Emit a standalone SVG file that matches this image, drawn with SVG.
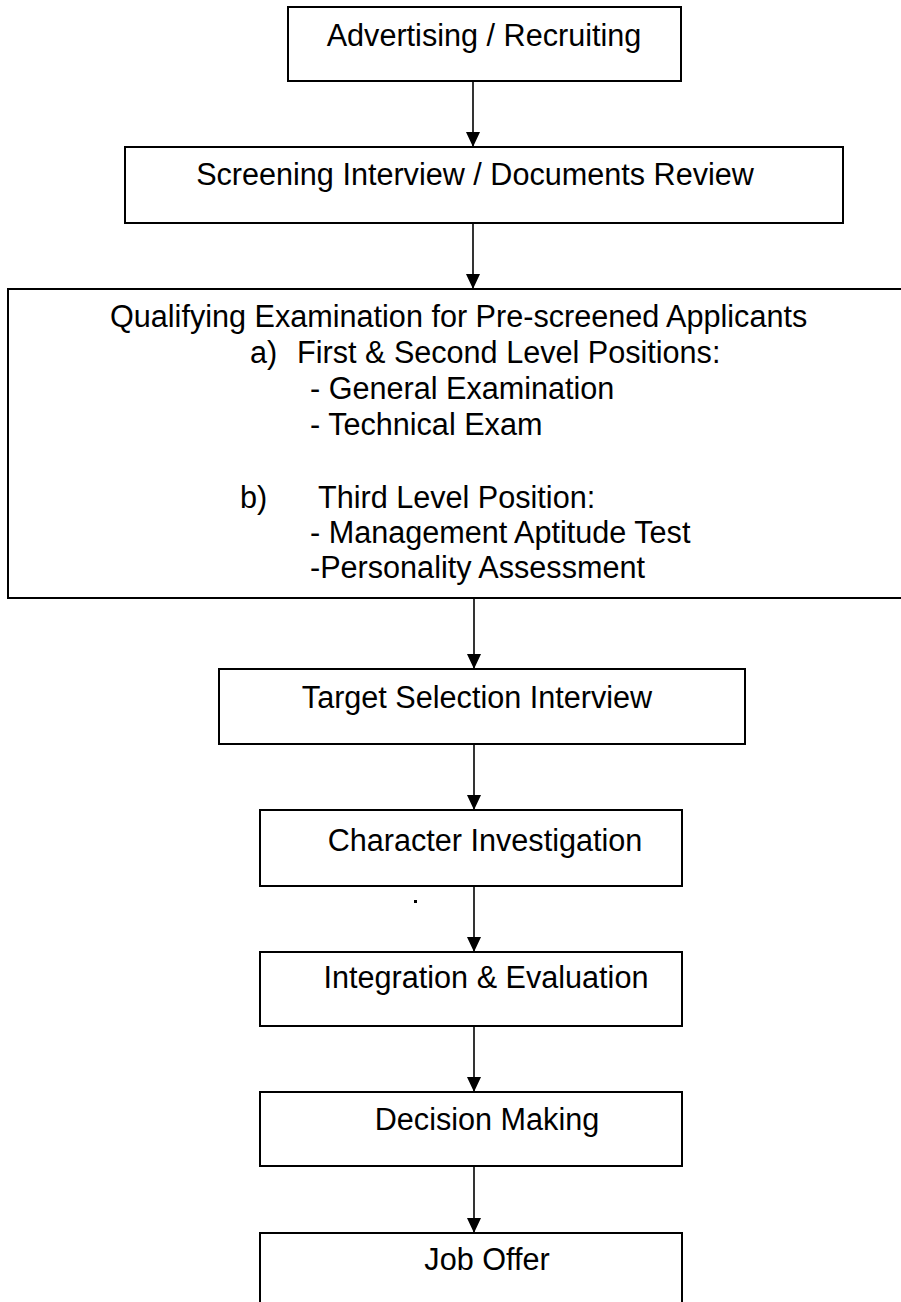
<svg xmlns="http://www.w3.org/2000/svg" width="901" height="1302" viewBox="0 0 901 1302">
<defs>
<style>
.box{fill:#fff;stroke:#000;stroke-width:2}
.t{font-family:"Liberation Sans",Arial,sans-serif;font-size:30.6px;fill:#000}
.c{text-anchor:middle}
.conn{stroke:#000;stroke-width:1.6;fill:none}
</style>
<marker id="ah" markerWidth="15" markerHeight="14" refX="15" refY="7" orient="auto" markerUnits="userSpaceOnUse">
<path d="M0,0 L15,7 L0,14 Z" fill="#000"/>
</marker>
</defs>
<rect width="901" height="1302" fill="#fff"/>
<g id="n1"><rect class="box" x="288" y="7" width="393" height="74"/><text class="t c" x="484" y="46">Advertising / Recruiting</text></g>
<g id="n2"><rect class="box" x="125" y="147" width="718" height="76"/><text class="t c" x="475" y="185">Screening Interview / Documents Review</text></g>
<g id="n3"><rect class="box" x="8" y="289" width="905" height="309"/>
<text class="t" x="110" y="327">Qualifying Examination for Pre-screened Applicants</text>
<text class="t" x="250" y="363">a)</text><text class="t" x="297" y="363">First &amp; Second Level Positions:</text>
<text class="t" x="310" y="399">- General Examination</text>
<text class="t" x="310" y="435">- Technical Exam</text>
<text class="t" x="240" y="508">b)</text><text class="t" x="318" y="508">Third Level Position:</text>
<text class="t" x="310" y="543">- Management Aptitude Test</text>
<text class="t" x="310" y="578">-Personality Assessment</text>
</g>
<g id="n4"><rect class="box" x="219" y="669" width="526" height="75"/><text class="t c" x="477" y="708">Target Selection Interview</text></g>
<g id="n5"><rect class="box" x="260" y="810" width="422" height="76"/><text class="t c" x="485" y="851">Character Investigation</text></g>
<g id="n6"><rect class="box" x="260" y="952" width="422" height="74"/><text class="t c" x="486" y="988">Integration &amp; Evaluation</text></g>
<g id="n7"><rect class="box" x="260" y="1092" width="422" height="74"/><text class="t c" x="487" y="1130">Decision Making</text></g>
<g id="n8"><rect class="box" x="260" y="1233" width="422" height="80"/><text class="t c" x="487" y="1270">Job Offer</text></g>
<g id="connectors">
<line class="conn" x1="473" y1="81" x2="473" y2="147" marker-end="url(#ah)"/>
<line class="conn" x1="473" y1="223" x2="473" y2="289" marker-end="url(#ah)"/>
<line class="conn" x1="474" y1="598" x2="474" y2="669" marker-end="url(#ah)"/>
<line class="conn" x1="474" y1="744" x2="474" y2="810" marker-end="url(#ah)"/>
<line class="conn" x1="474" y1="886" x2="474" y2="952" marker-end="url(#ah)"/>
<line class="conn" x1="474" y1="1026" x2="474" y2="1092" marker-end="url(#ah)"/>
<line class="conn" x1="474" y1="1166" x2="474" y2="1233" marker-end="url(#ah)"/>
</g>
<rect x="414" y="900" width="3" height="3" fill="#000"/>
</svg>
